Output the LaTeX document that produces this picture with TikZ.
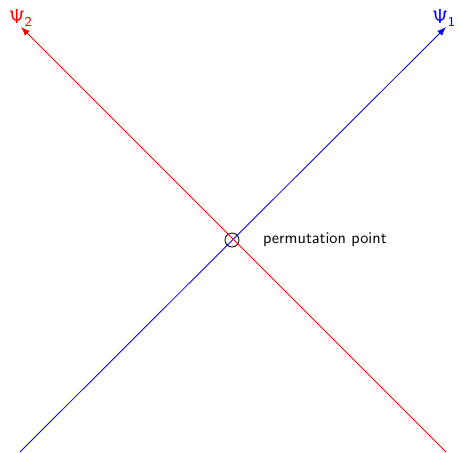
\documentclass[tikz,border=0pt]{standalone}
\usepackage{tikz}
\usetikzlibrary{arrows.meta}

\begin{document}
\begin{tikzpicture}[
    x=0.59pt, y=-0.59pt,
    >=Latex,
    wave/.style={->, line width=0.5pt},
    lbl/.style={inner sep=1pt, font=\sffamily\large},
]
\useasboundingbox (0,0) rectangle (458,453);

% ---- End points ----
\coordinate (b0) at (20,452);
\coordinate (b1) at (446,27);
\coordinate (r0) at (446,452);
\coordinate (r1) at (21,27);

% ---- Crossing point ----
\node[circle, draw, line width=0.5pt, minimum size=14*0.59pt, inner sep=0pt] (pp) at (232,240) {};
\node[lbl, anchor=west, font=\sffamily\fontsize{9.6}{11}\selectfont] (ppl) at (261,240) {permutation point};

% ---- Labels ----
\node[lbl, text=blue, anchor=east] (psi1) at (458,18) {$\mathsf{\Psi_1}$};
\node[lbl, text=red] (psi2) at (21,18) {$\mathsf{\Psi_2}$};

% ---- Lines ----
\draw[wave, blue] (b0) -- (b1);
\draw[wave, red] (r0) -- (r1);

\end{tikzpicture}
\end{document}
